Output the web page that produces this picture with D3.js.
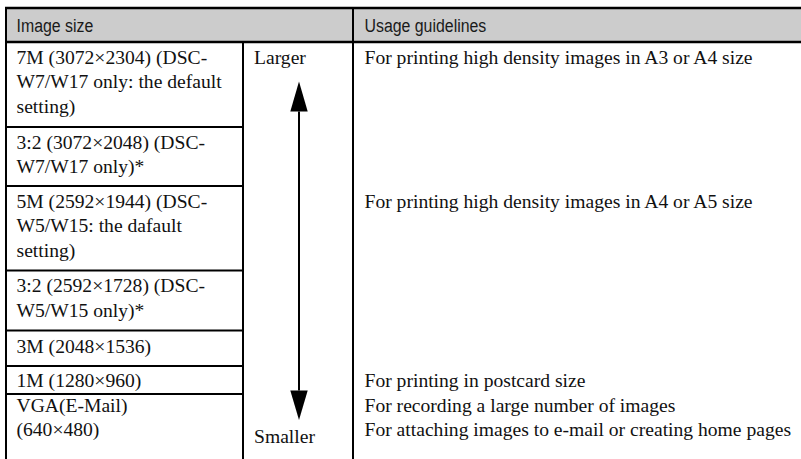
<!DOCTYPE html>
<html>
<head>
<meta charset="utf-8">
<script src="https://cdn.jsdelivr.net/npm/d3@7/dist/d3.min.js"></script>
<style>
  html, body { margin: 0; padding: 0; background: #fff; }
  svg { display: block; }
</style>
</head>
<body>
<svg id="chart" width="801" height="459"></svg>
<script>
// ---------- data ----------
const headers = ["Image size", "Usage guidelines"];
const imageSizes = [
  ["7M (3072×2304) (DSC-", "W7/W17 only: the default", "setting)"],
  ["3:2 (3072×2048) (DSC-", "W7/W17 only)*"],
  ["5M (2592×1944) (DSC-", "W5/W15: the dafault", "setting)"],
  ["3:2 (2592×1728) (DSC-", "W5/W15 only)*"],
  ["3M (2048×1536)"],
  ["1M (1280×960)"],
  ["VGA(E-Mail)", "(640×480)"]
];
const guidelineRows = [0, 2, 5, 6, 6];
const guidelineLines = [0, 0, 0, 0, 1];
const guidelineTexts = [
  "For printing high density images in A3 or A4 size",
  "For printing high density images in A4 or A5 size",
  "For printing in postcard size",
  "For recording a large number of images",
  "For attaching images to e-mail or creating home pages"
];
const scaleLabels = ["Larger", "Smaller"];

// ---------- layout ----------
const W = 801, H = 459;
const tableLeft = 5, tableTop = 8, headerBottom = 42;
const col1 = 243, col2 = 353;
const rowEdges = [42, 127, 186, 270.5, 330.5, 366, 394, 470];
const rowPad = [21.5, 21.5, 21.5, 21.5, 22.5, 21, 17.5];
const lineStep = 24.5;
const fsBody = 19.6;
const SERIF = "Liberation Serif";
const SANS = "Liberation Sans";

const svg = d3.select("#chart");

const x = d3.scaleOrdinal().domain(["size", "scale", "usage"]).range([tableLeft, col1, col2]);
const rowY = d3.scaleOrdinal().domain(d3.range(rowEdges.length)).range(rowEdges);
const baseline = (r, l) => rowY(r) + rowPad[r] + l * lineStep;

// header background
svg.append("rect")
  .attr("x", tableLeft).attr("y", tableTop)
  .attr("width", W - tableLeft).attr("height", headerBottom - tableTop)
  .attr("fill", "#cccccc");

// header texts
svg.selectAll("text.hdr").data(headers).join("text")
  .attr("class", "hdr")
  .attr("transform", (d, i) => `translate(${(i === 0 ? x("size") : x("usage")) + 11.5},31.5) scale(0.836,1)`)
  .attr("font-family", SANS)
  .attr("font-size", 19)
  .attr("fill", "#1a1a1a")
  .text(d => d);

// row separator lines (left column only)
svg.selectAll("line.row").data(d3.range(1, imageSizes.length)).join("line")
  .attr("class", "row")
  .attr("x1", x("size")).attr("x2", x("scale"))
  .attr("y1", d => rowY(d)).attr("y2", d => rowY(d))
  .attr("stroke", "#000").attr("stroke-width", 2);

// top border and header bottom
svg.append("line").attr("x1", tableLeft).attr("x2", W).attr("y1", tableTop).attr("y2", tableTop)
  .attr("stroke", "#000").attr("stroke-width", 2.5);
svg.append("line").attr("x1", tableLeft).attr("x2", W).attr("y1", headerBottom).attr("y2", headerBottom)
  .attr("stroke", "#000").attr("stroke-width", 2.5);

// vertical lines
svg.append("line").attr("x1", tableLeft + 1).attr("x2", tableLeft + 1).attr("y1", tableTop).attr("y2", H)
  .attr("stroke", "#000").attr("stroke-width", 2);
svg.append("line").attr("x1", x("scale")).attr("x2", x("scale")).attr("y1", headerBottom).attr("y2", H)
  .attr("stroke", "#000").attr("stroke-width", 2);
svg.append("line").attr("x1", x("usage")).attr("x2", x("usage")).attr("y1", tableTop).attr("y2", H)
  .attr("stroke", "#000").attr("stroke-width", 2);

// image size cell texts
const cells = svg.selectAll("g.cell").data(imageSizes).join("g").attr("class", "cell");
cells.each(function(lines, r) {
  d3.select(this).selectAll("text").data(lines).join("text")
    .attr("x", x("size") + 11.5)
    .attr("y", (d, l) => baseline(r, l))
    .attr("font-family", SERIF)
    .attr("font-size", fsBody)
    .attr("fill", "#111")
    .text(d => d);
});

// guideline texts
svg.selectAll("text.guide").data(guidelineTexts).join("text")
  .attr("class", "guide")
  .attr("x", x("usage") + 11.5)
  .attr("y", (d, i) => baseline(guidelineRows[i], guidelineLines[i]))
  .attr("font-family", SERIF)
  .attr("font-size", fsBody)
  .attr("fill", "#111")
  .text(d => d);

// scale labels
svg.selectAll("text.scl").data(scaleLabels).join("text")
  .attr("class", "scl")
  .attr("x", x("scale") + 11)
  .attr("y", (d, i) => i === 0 ? baseline(0, 0) : baseline(6, 1) + 6.5)
  .attr("font-family", SERIF)
  .attr("font-size", fsBody)
  .attr("fill", "#111")
  .text(d => d);

// arrow
const ax = 299, upTip = 81.5, upBase = 111.5, downTip = 420, downBase = 390.5, hw = 8.7;
svg.append("line").attr("x1", ax).attr("x2", ax).attr("y1", upBase).attr("y2", downBase)
  .attr("stroke", "#000").attr("stroke-width", 2);
svg.append("path")
  .attr("d", `M${ax},${upTip} L${ax - hw},${upBase} L${ax + hw},${upBase} Z`)
  .attr("fill", "#000");
svg.append("path")
  .attr("d", `M${ax},${downTip} L${ax - hw},${downBase} L${ax + hw},${downBase} Z`)
  .attr("fill", "#000");
</script>
</body>
</html>
